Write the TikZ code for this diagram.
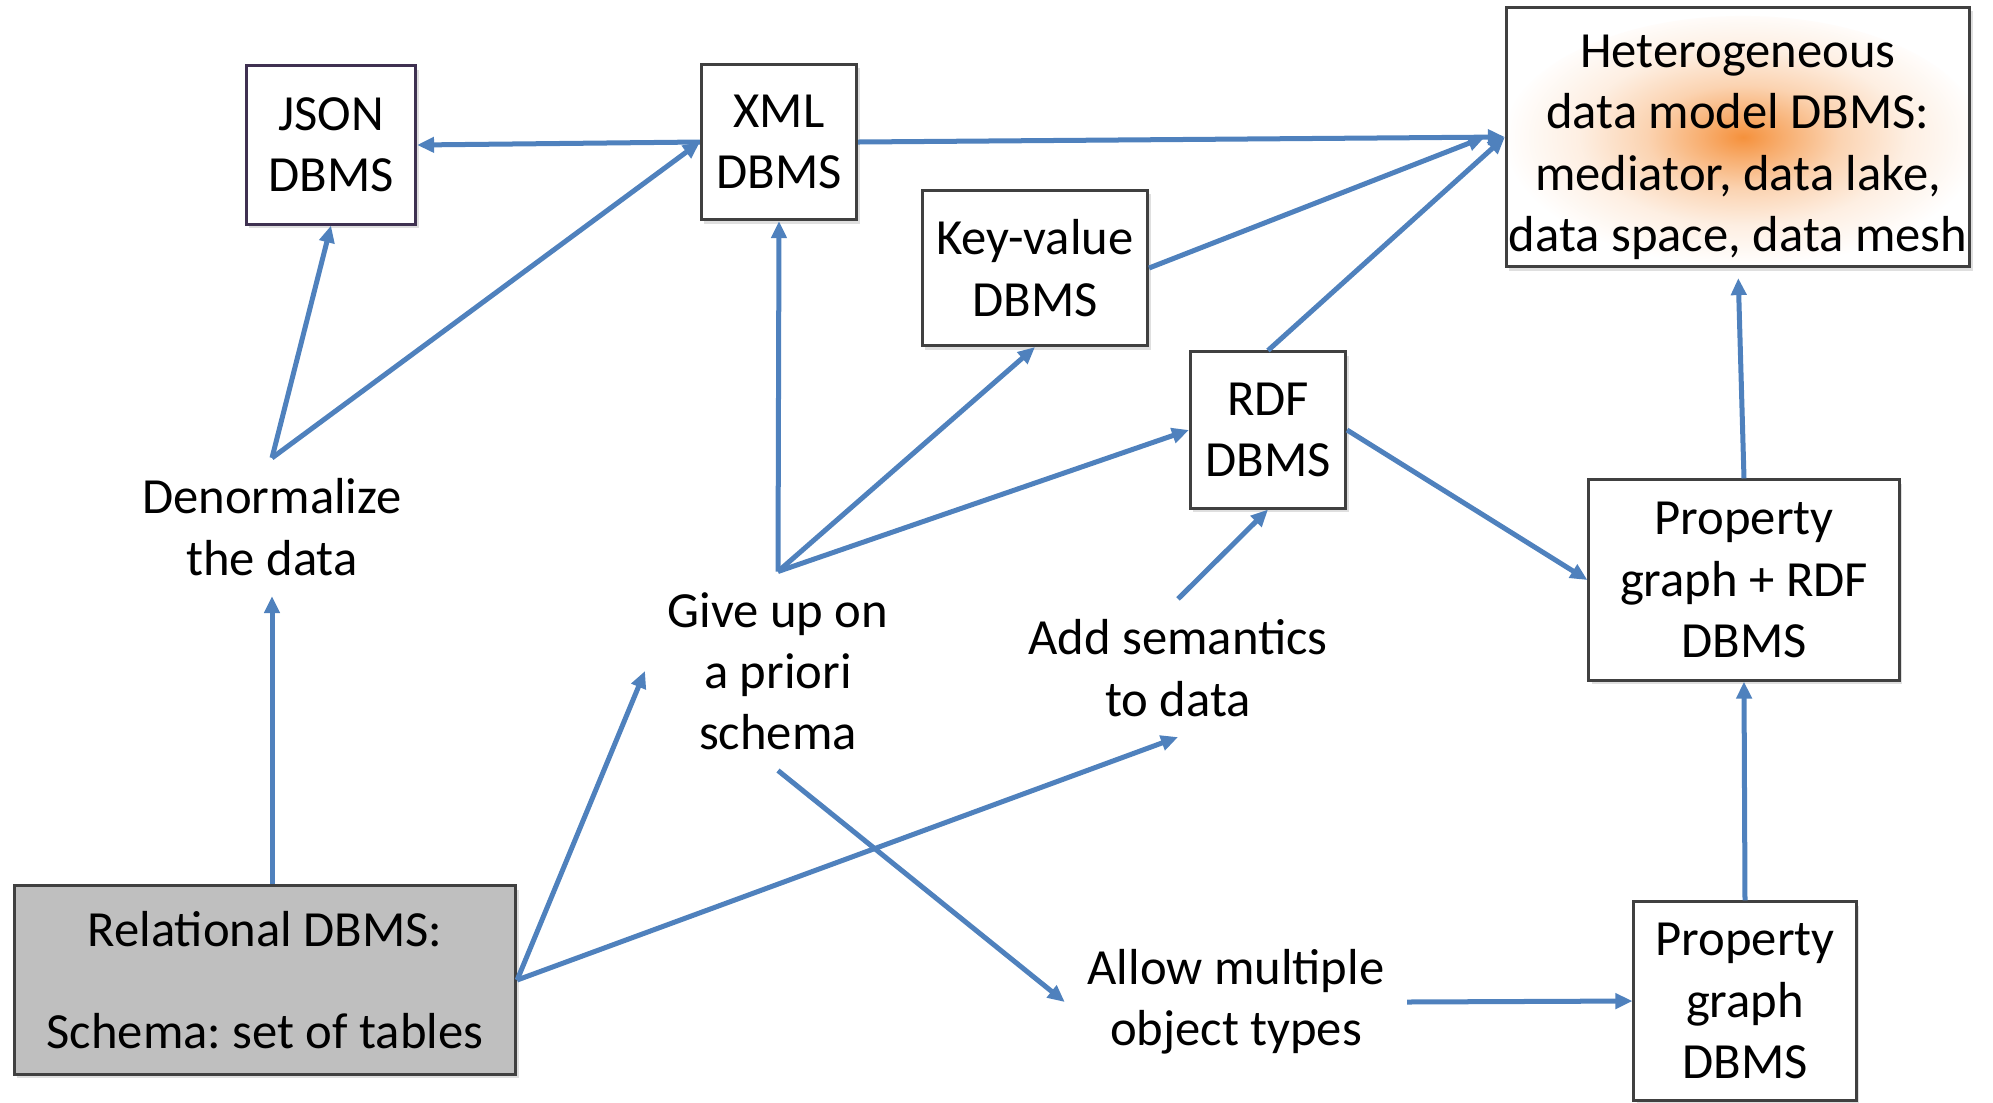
\documentclass[tikz,border=0pt]{standalone}
\usepackage{fontspec}
\setmainfont{Carlito}
\usetikzlibrary{arrows.meta,shadows}
\definecolor{arrblue}{RGB}{79,129,189}
\definecolor{boxgray}{RGB}{64,64,64}
\definecolor{jsonpurple}{RGB}{63,49,81}
\definecolor{glow}{RGB}{245,145,60}
\pgfdeclareradialshading{glowshade}{\pgfpoint{0bp}{0bp}}{color(0bp)=(glow); color(4bp)=(glow!75); color(10bp)=(glow!40); color(17bp)=(glow!15); color(25bp)=(white); color(50bp)=(white)}
\frenchspacing

\begin{document}
\begin{tikzpicture}
[x=0.01cm,y=-0.01cm,>={Triangle[length=0.17cm,width=0.15cm]},
box/.style = {draw=boxgray, line width=0.03cm, fill=white, align=center, inner sep=0pt, font=\fontsize{14.4}{17.4}\selectfont, drop shadow={opacity=0.25,shadow xshift=0.03cm,shadow yshift=-0.04cm}},
lbl/.style = {align=center, inner xsep=0.22cm, inner ysep=0.2cm, font=\fontsize{14.4}{17.4}\selectfont},
arr/.style = {->, draw=arrblue, line width=0.05cm},]
\useasboundingbox (0,0) rectangle (1993,1102);
% database boxes
\node[box, draw=jsonpurple, minimum width=1.69cm, minimum height=1.58cm] (json) at (331,145) {JSON\\DBMS};
\node[box, minimum width=1.55cm, minimum height=1.55cm] (xml) at (779,142) {XML\\DBMS};
\node[box, minimum width=4.63cm, minimum height=2.59cm, path picture={\shade[shading=glowshade] ([xshift=0.05cm,yshift=-0.04cm]path picture bounding box.center) ellipse (2.4cm and 1.25cm);}] (hetero) at (1738,137) {\rule{0pt}{0.53cm}Heterogeneous\\data model DBMS:\\mediator, data lake,\\data space, data mesh};
\node[box, minimum width=2.25cm, minimum height=1.55cm] (kv) at (1035,268) {Key-value\\DBMS};
\node[box, minimum width=1.55cm, minimum height=1.56cm] (rdf) at (1268,430) {RDF\\DBMS};
\node[box, minimum width=3.10cm, minimum height=2.00cm] (pgrdf) at (1744,580) {Property\\graph + RDF\\DBMS};
\node[box, minimum width=2.22cm, minimum height=1.98cm] (pg) at (1745,1001) {Property\\graph\\DBMS};
\node[box, fill=gray!50, minimum width=5.01cm, minimum height=1.88cm] (rel) at (265,980) {Relational DBMS:\\[0.41cm]Schema: set of tables};
% transitions
\node[lbl] (denorm) at (272,527) {Denormalize\\the data};
\node[lbl] (giveup) at (778,671) {Give up on\\a priori\\schema};
\node[lbl] (addsem) at (1178,668) {Add semantics\\to data};
\node[lbl] (allow) at (1236,1002) {Allow multiple\\object types};
% arrows
\draw[arr] (xml.west) -- (json.east);
\draw[arr] (denorm.north) -- (json.south);
\draw[arr] (denorm.north) -- (xml.west);
\draw[arr] (rel.north -| denorm.south) -- (denorm.south);
\draw[arr] (rel.east) -- (giveup.west);
\draw[arr] (rel.east) -- (addsem.south);
\draw[arr] (giveup.north) -- (xml.south);
\draw[arr] (giveup.north) -- (kv.south);
\draw[arr] (giveup.north) -- (rdf.west);
\draw[arr] (giveup.south) -- (allow.west);
\draw[arr] (allow.east) -- (pg.west);
\draw[arr] (addsem.north) -- (rdf.south);
\draw[arr] (rdf.east) -- (pgrdf.west);
\draw[arr] (pg.north) -- (pgrdf.south);
\draw[arr, shorten >=0.1cm] (pgrdf.north) -- (hetero.south);
\draw[arr] (xml.east) -- (hetero.west);
\draw[arr] (kv.east) -- ([xshift=-0.2cm]hetero.west);
\draw[arr] (rdf.north) -- (hetero.west);
\end{tikzpicture}
\end{document}
